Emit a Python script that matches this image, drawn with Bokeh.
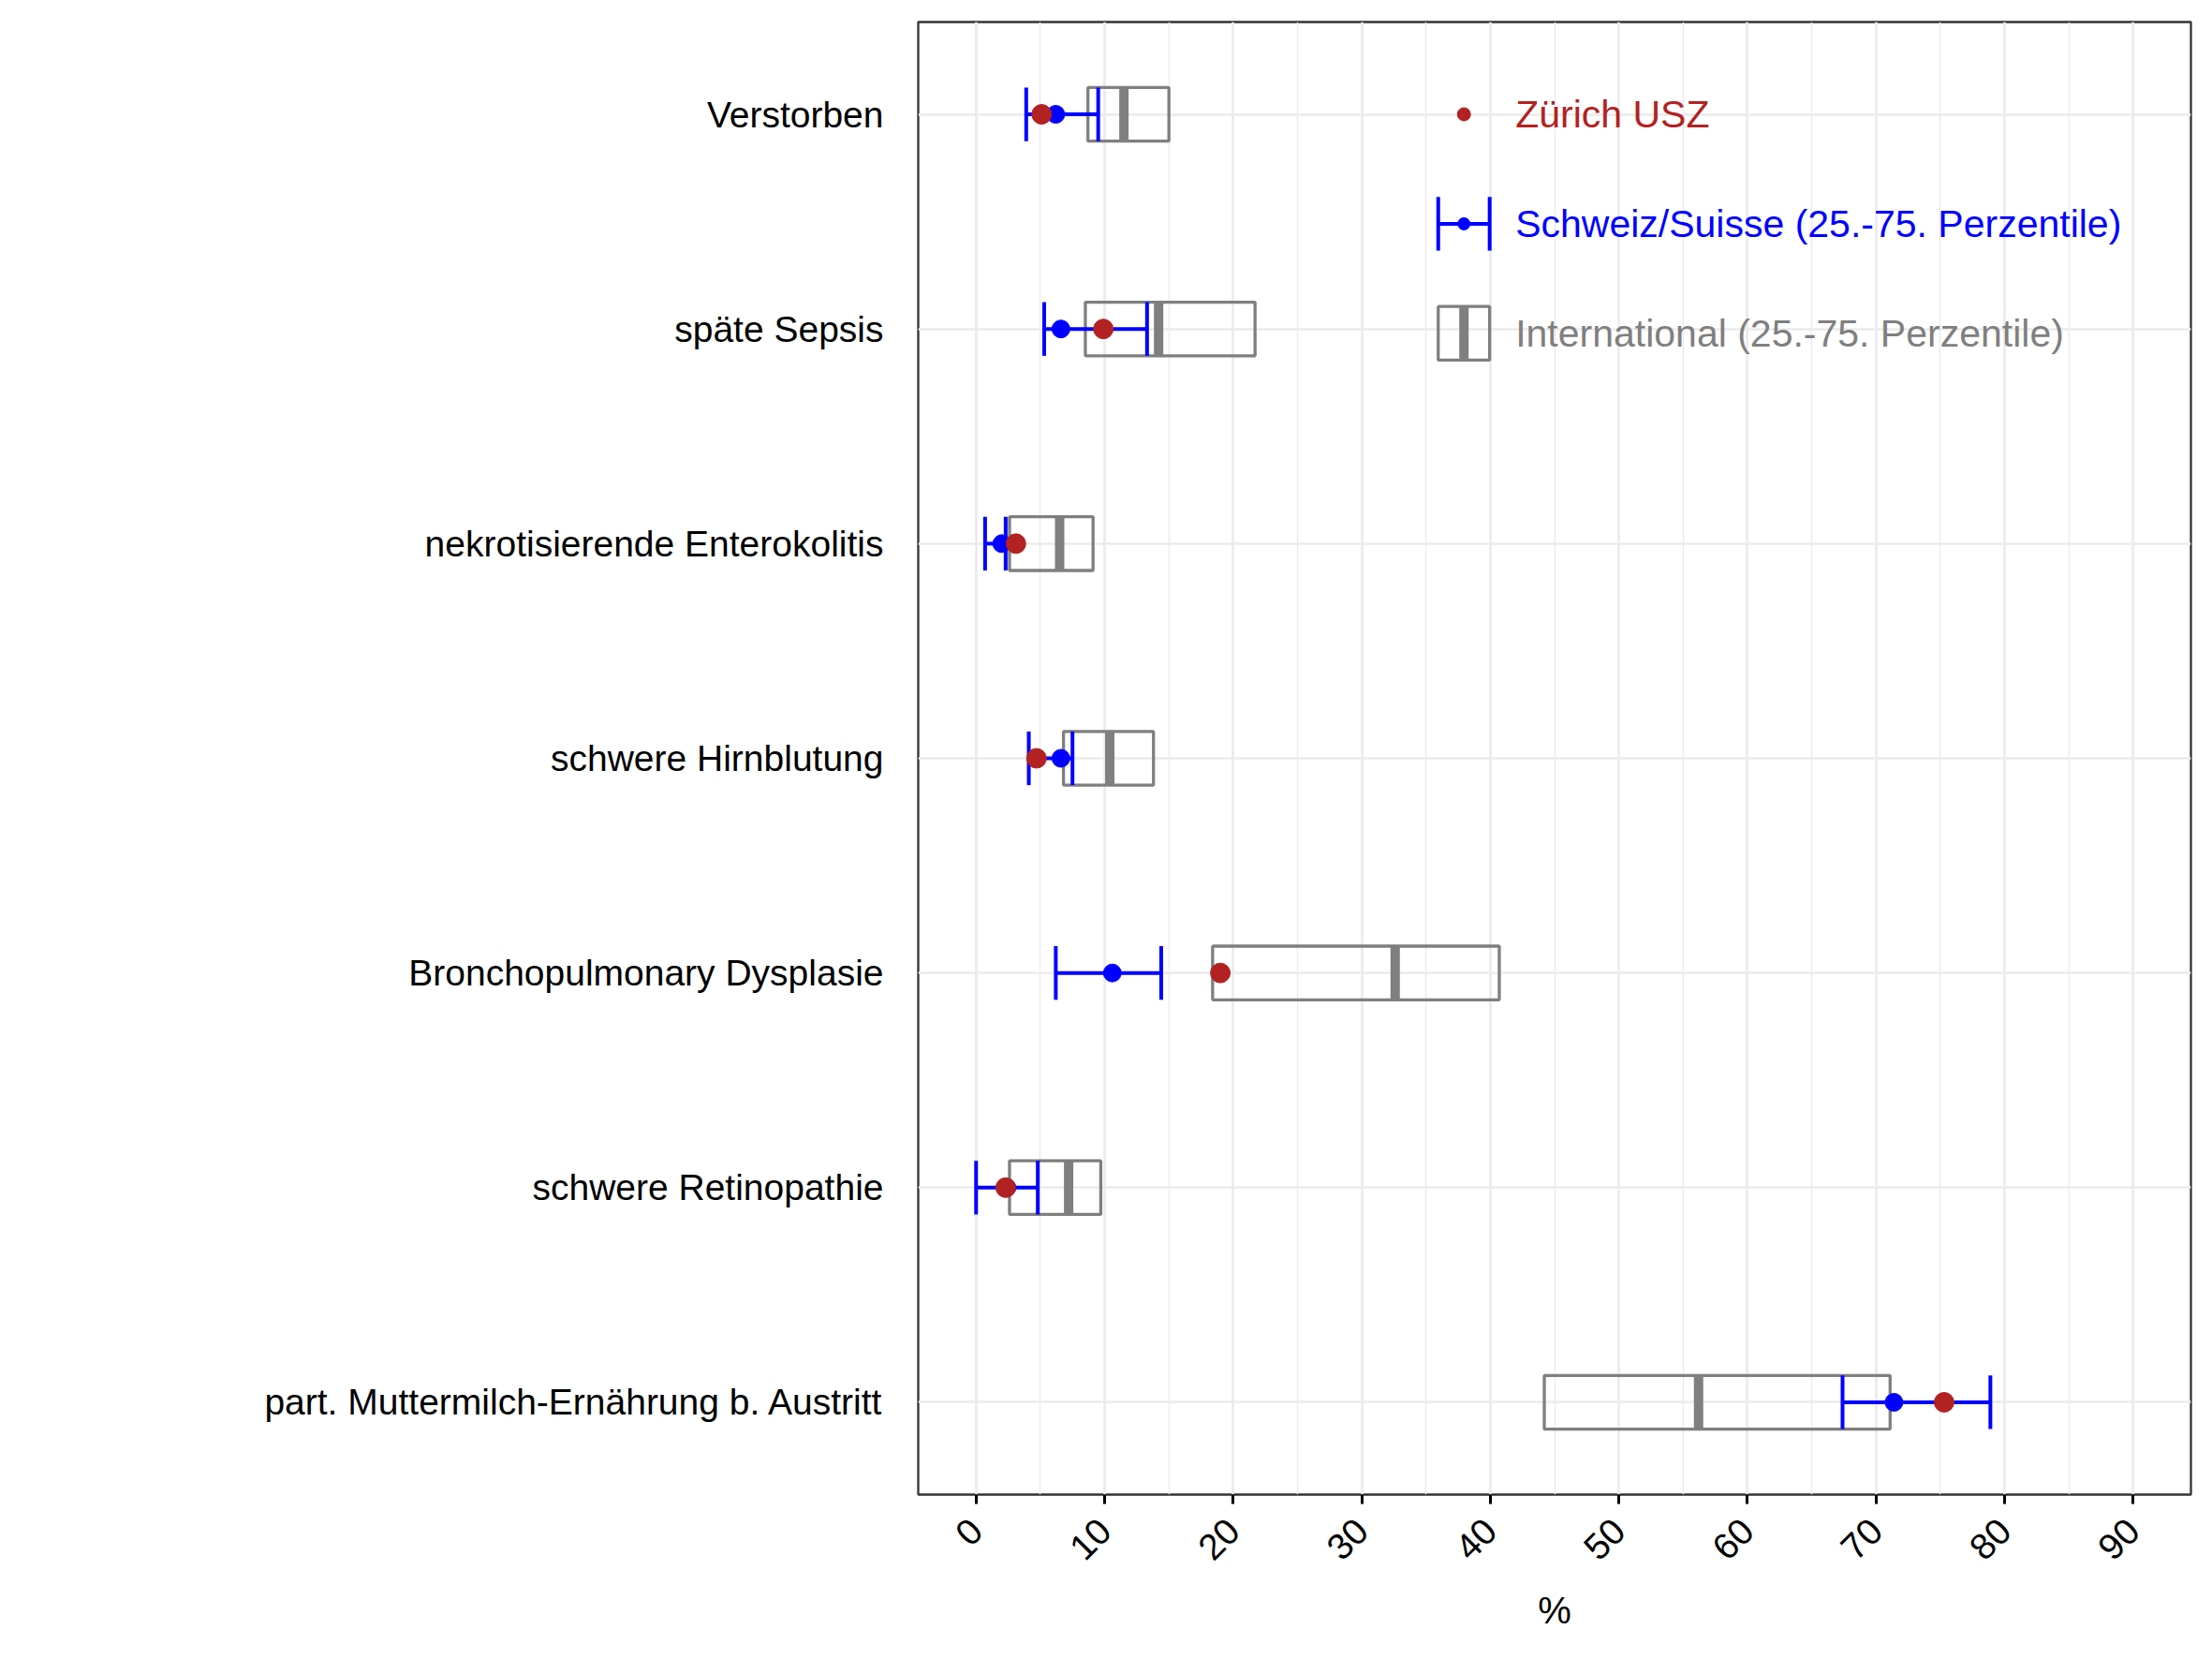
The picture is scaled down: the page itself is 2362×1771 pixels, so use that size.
import math
from bokeh.plotting import figure
from bokeh.models import Range1d, FixedTicker, ColumnDataSource
from bokeh.core.properties import value
from bokeh.embed import file_html
from bokeh.resources import INLINE

# ---------------- data ----------------
categories = [
    "Verstorben",
    "späte Sepsis",
    "nekrotisierende Enterokolitis",
    "schwere Hirnblutung",
    "Bronchopulmonary Dysplasie",
    "schwere Retinopathie",
    "part. Muttermilch-Ernährung b. Austritt",
]
zurich_usz = [5.1, 9.9, 3.1, 4.7, 19.0, 2.3, 75.3]
schweiz_median = [6.2, 6.6, 2.0, 6.6, 10.6, 2.4, 71.4]
schweiz_p25 = [3.9, 5.3, 0.7, 4.1, 6.2, 0.0, 67.4]
schweiz_p75 = [9.5, 13.3, 2.3, 7.5, 14.4, 4.8, 78.9]
intl_p25 = [8.7, 8.5, 2.6, 6.8, 18.4, 2.6, 44.2]
intl_median = [11.5, 14.2, 6.5, 10.4, 32.6, 7.2, 56.2]
intl_p75 = [15.0, 21.7, 9.1, 13.8, 40.7, 9.7, 71.1]
x_ticks = [0, 10, 20, 30, 40, 50, 60, 70, 80, 90]
legend_labels = ["Zürich USZ", "Schweiz/Suisse (25.-75. Perzentile)", "International (25.-75. Perzentile)"]

# ---------------- style ----------------
FONT = "Liberation Sans"
RED = "#B22222"
BLUE = "#0000FF"
GREY = "#7F7F7F"
BOX_H = 0.25

n = len(categories)
ypos = [n - i for i in range(n)]

src = ColumnDataSource(dict(
    y=ypos,
    y0=[y - BOX_H / 2 for y in ypos],
    y1=[y + BOX_H / 2 for y in ypos],
    zurich=zurich_usz,
    cmed=schweiz_median, cq1=schweiz_p25, cq3=schweiz_p75,
    imed=intl_median, iq1=intl_p25, iq3=intl_p75,
))

p = figure(
    frame_width=1359, frame_height=1572,
    x_range=Range1d(-4.5, 94.5), y_range=Range1d(0.57, 7.43),
    output_backend="svg", toolbar_location=None,
    min_border_left=980, min_border_right=7, min_border_top=23, min_border_bottom=160,
    background_fill_color="white", border_fill_color="white",
)
p.outline_line_color = "#333333"
p.outline_line_width = 2.3

# grid
p.xgrid.grid_line_color = "#EBEBEB"
p.xgrid.grid_line_width = 2.7
p.xgrid.minor_grid_line_color = "#EBEBEB"
p.xgrid.minor_grid_line_width = 1.4
p.ygrid.grid_line_color = "#EBEBEB"
p.ygrid.grid_line_width = 2.7

# x axis
p.xaxis.ticker = FixedTicker(ticks=x_ticks, minor_ticks=[t + 5 for t in x_ticks[:-1]])
p.xaxis.axis_line_color = None
p.xaxis.major_tick_out = 10
p.xaxis.major_tick_in = 0
p.xaxis.major_tick_line_width = 3
p.xaxis.major_tick_line_color = "black"
p.xaxis.minor_tick_out = 0
p.xaxis.minor_tick_in = 0
p.xaxis.major_label_orientation = math.pi / 4
p.xaxis.major_label_text_align = "center"
p.xaxis.major_label_text_baseline = "top"
p.xaxis.major_label_text_font = FONT
p.xaxis.major_label_text_font_size = "39px"
p.xaxis.major_label_text_color = "black"
p.xaxis.major_label_standoff = 22
p.xaxis.axis_label = "%"
p.xaxis.axis_label_text_font = FONT
p.xaxis.axis_label_text_font_size = "40px"
p.xaxis.axis_label_text_font_style = "normal"
p.xaxis.axis_label_text_color = "black"
p.xaxis.axis_label_standoff = 17

# y axis
p.yaxis.ticker = FixedTicker(ticks=ypos)
p.yaxis.major_label_overrides = {y: c for y, c in zip(ypos, categories)}
p.yaxis.axis_line_color = None
p.yaxis.major_tick_out = 0
p.yaxis.major_tick_in = 0
p.yaxis.minor_tick_out = 0
p.yaxis.minor_tick_in = 0
p.yaxis.major_label_standoff = 37
p.yaxis.major_label_text_font = FONT
p.yaxis.major_label_text_font_size = "39px"
p.yaxis.major_label_text_color = "black"

# international boxes
p.quad(left="iq1", right="iq3", bottom="y0", top="y1", source=src,
       fill_alpha=0, line_color=GREY, line_width=3.3)
p.segment(x0="imed", x1="imed", y0="y0", y1="y1", source=src,
          line_color=GREY, line_width=10, line_cap="butt")

# swiss error bars
p.segment(x0="cq1", x1="cq3", y0="y", y1="y", source=src, line_color=BLUE, line_width=4)
p.segment(x0="cq1", x1="cq1", y0="y0", y1="y1", source=src, line_color=BLUE, line_width=4)
p.segment(x0="cq3", x1="cq3", y0="y0", y1="y1", source=src, line_color=BLUE, line_width=4)
p.scatter(x="cmed", y="y", source=src, size=19, fill_color=BLUE, line_color=BLUE)

# zurich points
p.scatter(x="zurich", y="y", source=src, size=21, fill_color=RED, line_color=RED)

# ---------------- legend (inside panel) ----------------
LEG_KEY_X = 37.95
LEG_KEY_HALF = 2.0
LEG_TEXT_X = 41.95
LEG_Y = [7.0, 6.49, 5.98]
leg_colors = [RED, BLUE, GREY]

# key 1: dot
p.scatter(x=[LEG_KEY_X], y=[LEG_Y[0]], size=14, fill_color=RED, line_color=RED)
# key 2: error bar
kx0, kx1 = LEG_KEY_X - LEG_KEY_HALF, LEG_KEY_X + LEG_KEY_HALF
p.segment(x0=[kx0], x1=[kx1], y0=[LEG_Y[1]], y1=[LEG_Y[1]], line_color=BLUE, line_width=4)
p.segment(x0=[kx0, kx1], x1=[kx0, kx1], y0=[LEG_Y[1] - BOX_H / 2] * 2, y1=[LEG_Y[1] + BOX_H / 2] * 2,
          line_color=BLUE, line_width=4)
p.scatter(x=[LEG_KEY_X], y=[LEG_Y[1]], size=13, fill_color=BLUE, line_color=BLUE)
# key 3: box
p.quad(left=[kx0], right=[kx1], bottom=[LEG_Y[2] - BOX_H / 2], top=[LEG_Y[2] + BOX_H / 2],
       fill_alpha=0, line_color=GREY, line_width=3.3)
p.segment(x0=[LEG_KEY_X], x1=[LEG_KEY_X], y0=[LEG_Y[2] - BOX_H / 2], y1=[LEG_Y[2] + BOX_H / 2],
          line_color=GREY, line_width=10, line_cap="butt")
# labels
p.text(x=[LEG_TEXT_X] * 3, y=LEG_Y, text=legend_labels, text_color=leg_colors,
       text_font=value(FONT), text_font_size="41px",
       text_align="left", text_baseline="middle")

open("out.html", "w").write(file_html(p, INLINE))
